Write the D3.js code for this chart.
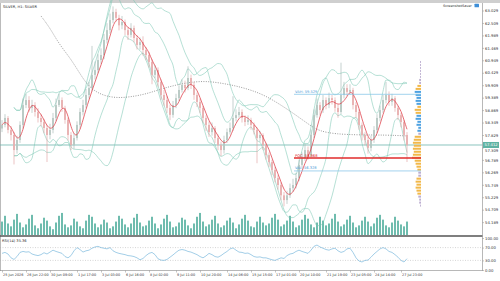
<!DOCTYPE html>
<html>
<head>
<meta charset="utf-8">
<script src="https://cdn.jsdelivr.net/npm/d3@7"></script>
<style>
  html, body { margin: 0; padding: 0; background: #fff; }
  svg { display: block; font-family: "DejaVu Sans", Verdana, sans-serif; }
</style>
</head>
<body>
<svg id="chart" width="500" height="281"></svg>
<script>
// SILVER H1 – Kerzen, Bollinger, MA, Volumen, RSI und Volume Profile

const firstOpen = 58.10;
const closes = [
  58.25,58.54,58.04,57.83,57.20,57.62,58.25,59.08,59.29,58.96,
  59.08,58.79,58.54,58.37,58.12,57.83,58.04,58.54,59.08,59.29,
  58.96,58.46,57.83,57.41,57.70,58.25,58.79,59.08,59.50,59.79,
  60.34,60.54,60.96,61.17,61.80,62.21,62.63,62.97,62.72,62.41,
  62.55,62.21,62.01,62.30,61.88,61.59,61.71,61.38,61.17,60.88,
  60.34,60.54,60.04,59.50,59.29,58.96,58.67,59.08,59.37,59.71,
  59.92,59.79,60.21,59.92,59.50,59.21,58.96,58.54,58.25,57.95,
  58.12,57.70,57.41,57.20,57.62,57.95,58.12,58.54,58.66,58.79,
  58.54,58.37,58.46,58.25,58.04,57.70,57.83,57.41,56.99,56.70,
  56.37,56.03,55.74,55.31,55.11,55.31,55.61,55.74,56.03,56.58,
  56.87,57.20,56.99,57.83,58.66,59.08,58.87,59.29,59.08,59.37,
  59.29,58.96,58.79,59.50,59.79,59.63,59.71,59.08,58.79,58.25,
  57.83,57.62,57.29,57.62,58.04,58.54,58.87,59.29,59.50,59.21,
  59.37,58.96,58.66,58.37,57.83,57.412
];
const highs = [
  58.45,58.70,58.62,58.20,57.95,57.80,58.40,59.35,59.55,59.45,
  59.30,59.20,58.95,58.70,58.50,58.25,58.30,58.75,59.35,59.55,
  59.40,59.05,58.55,57.95,57.90,58.40,58.95,59.30,59.75,60.05,
  61.55,60.90,61.20,61.45,62.05,62.50,62.90,63.20,63.10,62.85,
  62.80,62.65,62.35,62.50,62.40,62.00,61.90,61.95,61.50,61.30,
  61.00,60.75,60.65,60.15,59.70,59.45,59.10,59.25,59.55,59.90,
  60.15,60.10,60.70,60.35,60.05,59.60,59.35,59.05,58.65,58.40,
  58.35,58.20,57.85,57.55,57.80,58.10,58.35,59.45,58.90,59.00,
  58.90,58.65,58.65,58.55,58.35,58.15,58.00,57.90,57.50,57.10,
  56.80,56.50,56.15,55.85,55.45,55.50,55.80,56.00,56.25,56.80,
  57.10,57.45,57.35,58.05,58.90,59.35,59.20,59.50,59.40,59.60,
  59.50,59.40,59.10,60.85,60.05,59.95,59.95,59.80,59.20,58.90,
  58.35,57.95,57.75,57.80,58.20,58.70,59.05,59.50,60.05,59.65,
  59.55,59.45,59.05,58.75,58.45,57.95
];
const lows = [
  57.95,58.15,57.90,57.60,56.60,57.05,57.50,58.10,58.95,58.80,
  58.75,58.60,58.35,58.20,57.90,56.70,57.65,57.90,58.40,59.00,
  58.80,58.30,57.60,57.20,57.25,57.60,58.10,58.65,58.95,59.35,
  59.65,60.15,60.40,60.80,61.00,61.65,62.05,62.50,62.55,62.20,
  62.25,62.00,61.80,61.90,61.70,61.40,61.40,61.15,60.95,60.65,
  59.95,60.20,59.85,59.30,59.05,58.75,58.45,58.55,58.95,59.25,
  59.60,59.60,59.70,59.75,59.30,59.00,58.75,58.35,58.00,57.75,
  57.80,57.50,57.20,56.95,57.05,57.50,57.85,58.00,58.40,58.55,
  58.35,58.20,58.25,58.05,57.85,56.65,57.55,57.20,56.80,56.50,
  56.15,55.85,55.55,55.10,54.85,54.95,55.20,55.45,55.60,55.90,
  56.45,56.75,56.80,56.90,57.70,58.55,58.65,58.75,58.90,58.95,
  59.10,58.80,58.55,58.70,59.35,59.45,59.50,58.90,58.55,58.05,
  57.60,57.40,57.05,57.15,57.50,57.90,58.40,58.75,59.15,59.05,
  59.05,58.80,58.45,58.15,57.60,56.70
];
const volumes = [
  14,20,12,9,16,22,13,8,11,17, 21,10,7,12,18,15,9,6,13,20,
  23,11,8,10,17,14,9,7,15,21, 19,12,8,11,16,13,7,9,14,20,
  17,11,8,12,18,22,13,9,10,15, 19,12,7,11,17,21,14,8,9,13,
  18,16,10,7,12,19,23,14,9,11, 16,20,12,8,10,15,18,13,7,11,
  17,21,15,9,8,14,19,13,10,12, 18,22,16,9,11,15,20,14,8,10,
  16,21,17,11,8,13,19,15,10,12, 17,22,14,9,11,16,20,13,8,10,
  15,19,14,9,12,18,21,16,10,8, 13,19,15,11,9,14
];
const rsiValues = [
  52,55,50,38,33,42,55,58,56,57, 50,47,45,48,54,50,56,62,58,55,
  52,42,38,45,60,70,64,56,60,62, 68,72,74,70,68,66,70,60,55,52,
  50,48,45,44,42,38,32,36,45,52, 55,48,35,31,30,33,40,47,55,62,
  64,62,58,56,52,48,42,38,44,52, 48,42,40,45,52,58,66,69,62,56,
  55,52,53,48,42,40,41,38,38,35, 32,30,34,38,36,45,50,52,58,62,
  58,55,52,62,74,78,72,68,64,62, 66,68,60,55,58,66,68,55,38,28,
  25,30,31,40,50,58,66,70,66,58, 55,48,40,30,25,35.36
];
const slowIdx = [13,16,19,23,26,29,33,38,43,48,53,58,63,68,73,78,83,88,93,98,103,106,111,119,128,135];
const slowVal = [62.80,62.30,61.63,61.00,60.38,59.83,59.50,59.37,59.42,59.54,59.75,59.92,60.04,60.08,
                 60.00,59.88,59.71,59.46,59.08,58.66,58.20,57.99,57.87,57.83,57.83,57.79];

const priceTicks = [63.029,62.509,61.989,61.469,60.949,60.429,59.909,59.389,58.869,58.349,
                    57.829,57.309,56.789,56.269,55.749,55.229,54.709,54.189];
const rsiTicks = [100, 70, 30, 0];
const timeIdx = [0,8,16,25,33,41,49,58,66,75,83,91,99,108,116,124,133];
const timeLabels = ["25 Jun 2026","26 Jun 22:00","30 Jun 09:00","1 Jul 17:00","3 Jul 03:00",
  "6 Jul 16:00","8 Jul 02:00","9 Jul 11:00","10 Jul 20:00","14 Jul 06:00","15 Jul 15:00",
  "17 Jul 01:00","20 Jul 10:00","21 Jul 19:00","23 Jul 05:00","24 Jul 14:00","27 Jul 23:00"];

// Volume Profile
const vpTop = 60.88, vpStep = 0.125;
const vpVols = [1,1,1,1,1,1,2,2,4,6, 7,6,5,6,5,4,7,6,5,6, 4,5,3,4,3,7,8,9,8,9,
                8,9,10,7,6,5,4,3,3,5, 6,5,6,5,4,3,2,2,1];
const vpSide = ["n","n","n","n","n","n","n","n","o","o", "b","b","b","b","b","o","o","o","b","b",
                "b","b","b","b","n","o","o","o","o","o", "o","o","o","o","o","o","o","n","n","o",
                "o","o","o","o","o","n","n","n","n"];
const vah = 59.529, poc = 56.868, val = 56.328;
const profileStart = 98;

// ---------- Layout ----------
const svg = d3.select("#chart");
const N = closes.length;
const axisX = 482.5;

const x = d3.scaleLinear().domain([0, N - 1]).range([2, 407]);
const y = d3.scaleLinear().domain([53.652, 63.301]).range([235, 4]);
const yVol = d3.scaleLinear().domain([0, 25]).range([235, 211]);
const yRsi = d3.scaleLinear().domain([0, 100]).range([270, 238]);

const candles = closes.map((c, i) => ({
  i, o: i ? closes[i - 1] : firstOpen, c, h: highs[i], l: lows[i]
}));

// Kopfleiste
svg.append("rect").attr("x", 0).attr("y", 0).attr("width", 500).attr("height", 3).attr("fill", "#cfcfcf");
svg.append("line").attr("x1", 0.5).attr("x2", 0.5).attr("y1", 3).attr("y2", 271).attr("stroke", "#bbb");

// Volumen
svg.append("g").selectAll("rect")
  .data(volumes)
  .join("rect")
  .attr("x", (d, i) => x(i) - 1)
  .attr("y", d => yVol(d))
  .attr("width", 2)
  .attr("height", d => 235 - yVol(d))
  .attr("fill", "#6fbcae");

// aktueller Kurs – horizontale Linie
const lastPrice = closes[N - 1];
svg.append("line")
  .attr("x1", 0).attr("x2", axisX)
  .attr("y1", y(lastPrice)).attr("y2", y(lastPrice))
  .attr("stroke", "#6fb5ad").attr("stroke-width", 0.8);

// Bollinger
function bands(p, k) {
  return closes.map((c, i) => {
    const w = closes.slice(Math.max(0, i - p + 1), i + 1);
    const m = d3.mean(w), s = w.length > 1 ? d3.deviation(w) : 0;
    return { i, m, up: m + k * s, lo: m - k * s };
  }).filter(d => d.i >= 4);
}
const bb = bands(7, 2);
const bbWide = bands(14, 2);
const lineOf = acc => d3.line().x(d => x(d.i)).y(d => y(acc(d))).curve(d3.curveMonotoneX);
const bandG = svg.append("g").attr("fill", "none").attr("stroke", "#79c6b2").attr("stroke-width", 0.55);
[[bb, d => d.up], [bb, d => d.lo], [bbWide, d => d.up], [bbWide, d => d.lo]]
  .forEach(([data, acc]) => bandG.append("path").attr("d", lineOf(acc)(data)));

// langsamer MA
const slow = slowIdx.map((i, k) => ({ i, v: slowVal[k] }));
svg.append("path")
  .attr("d", d3.line().x(d => x(d.i)).y(d => y(d.v)).curve(d3.curveBasis)(slow))
  .attr("fill", "none").attr("stroke", "#555").attr("stroke-width", 0.6)
  .attr("stroke-dasharray", "1,1.4");

// Kerzen
const cg = svg.append("g");
cg.selectAll("line")
  .data(candles)
  .join("line")
  .attr("x1", d => x(d.i)).attr("x2", d => x(d.i))
  .attr("y1", d => y(d.h)).attr("y2", d => y(d.l))
  .attr("stroke", d => d.c >= d.o ? "#9fb4ae" : "#dd9a9a").attr("stroke-width", 0.6);
cg.selectAll("rect")
  .data(candles)
  .join("rect")
  .attr("x", d => x(d.i) - 0.9)
  .attr("y", d => y(Math.max(d.o, d.c)))
  .attr("width", 1.8)
  .attr("height", d => Math.max(0.6, Math.abs(y(d.o) - y(d.c))))
  .attr("fill", d => d.c >= d.o ? "#b7c8c3" : "#e8b0b0");

// schneller MA (rot)
const fast = closes.map((c, i) => ({ i, v: d3.mean(closes.slice(Math.max(0, i - 3), i + 1)) }));
svg.append("path")
  .attr("d", d3.line().x(d => x(d.i)).y(d => y(d.v)).curve(d3.curveBasis)(fast))
  .attr("fill", "none").attr("stroke", "#e0454f").attr("stroke-width", 0.8);

// Volume Profile
const vpW = d3.scaleLinear().domain([0, 10]).range([0, 9]);
const vpColor = { o: "#f2b849", b: "#4ea2e2", n: "#bcaed0" };
svg.append("g").selectAll("rect")
  .data(vpVols)
  .join("rect")
  .attr("x", d => 421 - vpW(d))
  .attr("y", (d, k) => y(vpTop - k * vpStep) - 1)
  .attr("width", d => vpW(d))
  .attr("height", 2)
  .attr("fill", (d, k) => vpColor[vpSide[k]]);

// VAH / POC / VAL
const lv = [
  { name: "VAH", v: vah, color: "#8cc8ea", w: 0.8, text: "#4a9ad6" },
  { name: "POC", v: poc, color: "#e02b2b", w: 1.4, text: "#d42020" },
  { name: "VAL", v: val, color: "#8cc8ea", w: 0.8, text: "#4a9ad6" }
];
const lvG = svg.append("g");
lvG.selectAll("line")
  .data(lv)
  .join("line")
  .attr("x1", x(profileStart) - 2).attr("x2", 421)
  .attr("y1", d => y(d.v)).attr("y2", d => y(d.v))
  .attr("stroke", d => d.color).attr("stroke-width", d => d.w);
lvG.selectAll("text")
  .data(lv)
  .join("text")
  .attr("x", x(profileStart) - 1)
  .attr("y", d => y(d.v) - 1.5)
  .attr("font-size", 3.6)
  .attr("fill", d => d.text)
  .text(d => `${d.name}: ${d.v.toFixed(3)}`);

// Trennlinien
svg.append("line").attr("x1", 0).attr("x2", axisX).attr("y1", 236).attr("y2", 236)
  .attr("stroke", "#555").attr("stroke-width", 1.4);
svg.append("line").attr("x1", 0).attr("x2", axisX).attr("y1", 270.5).attr("y2", 270.5)
  .attr("stroke", "#888").attr("stroke-width", 0.6);
svg.append("line").attr("x1", axisX).attr("x2", axisX).attr("y1", 3).attr("y2", 271)
  .attr("stroke", "#888").attr("stroke-width", 0.6);

// RSI
svg.append("g").selectAll("line")
  .data([70, 30])
  .join("line")
  .attr("x1", 0).attr("x2", axisX)
  .attr("y1", d => yRsi(d)).attr("y2", d => yRsi(d))
  .attr("stroke", "#aaa").attr("stroke-width", 0.5).attr("stroke-dasharray", "1,1.5");
svg.append("path")
  .attr("d", d3.line().x((d, i) => x(i)).y(d => yRsi(d))(rsiValues))
  .attr("fill", "none").attr("stroke", "#7bb9dc").attr("stroke-width", 0.7);
svg.append("text").attr("x", 2).attr("y", 242).attr("font-size", 3.6).attr("fill", "#333")
  .text(`RSI(14) ${rsiValues[N - 1].toFixed(2)}`);

// Achsen
function styleAxis(g) {
  g.select(".domain").remove();
  g.selectAll("line").attr("stroke", "#888").attr("stroke-width", 0.5);
  g.selectAll("text").attr("fill", "#333").attr("font-size", 3.8)
    .attr("font-family", "DejaVu Sans, sans-serif");
}
const lastY = y(lastPrice);
svg.append("g").attr("transform", `translate(${axisX},0)`)
  .call(d3.axisRight(y).tickValues(priceTicks).tickFormat(d3.format(".3f")).tickSize(1.5).tickPadding(1))
  .call(styleAxis)
  // Tick direkt am Kurs-Label etwas nach unten schieben, damit er sichtbar bleibt
  .call(g => g.selectAll(".tick text")
    .filter(d => Math.abs(y(d) - lastY) < 4)
    .attr("dy", "1.1em"));
svg.append("g").attr("transform", `translate(${axisX},0)`)
  .call(d3.axisRight(yRsi).tickValues(rsiTicks).tickFormat(d3.format(".2f")).tickSize(1.5).tickPadding(1))
  .call(styleAxis);
svg.append("g").attr("transform", "translate(0,270.5)")
  .call(d3.axisBottom(x).tickValues(timeIdx).tickFormat((d, k) => timeLabels[k]).tickSize(2).tickPadding(1.5))
  .call(styleAxis)
  .call(g => g.selectAll("text").attr("text-anchor", "start").attr("dx", 0.5).attr("font-size", 3.4));

// Kurs-Label
svg.append("rect").attr("x", 483).attr("y", lastY - 3).attr("width", 16).attr("height", 6).attr("fill", "#5fb3a3");
svg.append("text").attr("x", 484.5).attr("y", lastY + 1.4).attr("font-size", 3.8).attr("fill", "#fff")
  .text(lastPrice.toFixed(3));

// Titel
svg.append("text").attr("x", 3).attr("y", 7.5).attr("font-size", 3.6).attr("fill", "#222")
  .text("SILVER, H1: SILVER");
svg.append("text").attr("x", 443).attr("y", 7).attr("font-size", 3.4).attr("fill", "#222")
  .text("ScreenshotSaver");
svg.append("rect").attr("x", 474.5).attr("y", 3.8).attr("width", 4.5).attr("height", 3.5)
  .attr("fill", "#3f8fd8").attr("rx", 0.5);
</script>
</body>
</html>
